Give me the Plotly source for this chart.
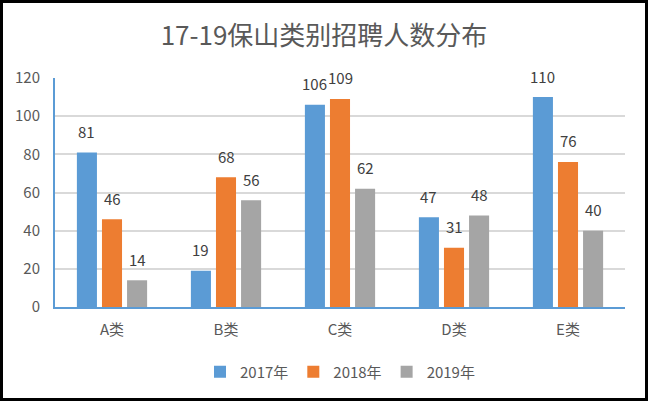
import plotly.graph_objects as go

categories = ["A类", "B类", "C类", "D类", "E类"]
series_names = ["2017年", "2018年", "2019年"]
values_2017 = [81, 19, 106, 47, 110]
values_2018 = [46, 68, 109, 31, 76]
values_2019 = [14, 56, 62, 48, 40]
colors = ["#5B9BD5", "#ED7D31", "#A5A5A5"]
y_ticks = [0, 20, 40, 60, 80, 100, 120]

W, H = 648, 401
ML, MR, MT, MB = 55, 23, 78, 94
PW, PH = W - ML - MR, H - MT - MB

font_family = "Noto Sans CJK SC, Noto Sans, sans-serif"

fig = go.Figure()
all_vals = [values_2017, values_2018, values_2019]
for name, vals, c in zip(series_names, all_vals, colors):
    fig.add_trace(go.Bar(x=categories, y=vals, name=name, marker_color=c,
                         marker_line_width=0, hoverinfo="x+y"))

slot = PW / len(categories) * (1 - 0.34) / 3
annotations = []
for i, vals in enumerate(all_vals):
    for cat, v in zip(categories, vals):
        annotations.append(dict(x=cat, y=v, xref="x", yref="y", text=str(v),
                                showarrow=False, xshift=(i - 1) * slot, yshift=21,
                                font=dict(size=15, color="#404040", family=font_family)))

# frame around the whole chart
x0 = (1.5 - ML) / PW
x1 = (W - 1.5 - ML) / PW
y0 = -(H - 1.5 - (MT + PH)) / PH
y1 = (MT + PH - 1.5) / PH

fig.update_layout(
    width=W, height=H,
    margin=dict(l=ML, r=MR, t=MT, b=MB, pad=0),
    paper_bgcolor="white", plot_bgcolor="white",
    title=dict(text="17-19保山类别招聘人数分布", x=0.5, xanchor="center",
               y=1 - 36 / H, yanchor="middle",
               font=dict(size=26, color="#595959", family=font_family)),
    barmode="group", bargap=0.34, bargroupgap=0.2,
    xaxis=dict(showgrid=False, showline=True, linecolor="#5B9BD5", linewidth=2,
               ticks="", ticklabelstandoff=8,
               tickfont=dict(size=15, color="#595959", family=font_family)),
    yaxis=dict(range=[0, 120], tickvals=y_ticks, showgrid=True, gridcolor="#D9D9D9",
               gridwidth=1.5, showline=True, linecolor="#5B9BD5", linewidth=2,
               zeroline=False, ticks="", ticklabelstandoff=10,
               tickfont=dict(size=15, color="#595959", family=font_family)),
    legend=dict(orientation="h", x=0.5, xanchor="center", y=-(372 - 307) / PH,
                yanchor="middle", font=dict(size=15, color="#595959", family=font_family),
                itemwidth=30, traceorder="normal"),
    annotations=annotations,
    shapes=[dict(type="rect", xref="paper", yref="paper", x0=x0, x1=x1, y0=y0, y1=y1,
                 line=dict(color="black", width=3), fillcolor="rgba(0,0,0,0)")],
    showlegend=True,
)

fig.write_html("out.html")
